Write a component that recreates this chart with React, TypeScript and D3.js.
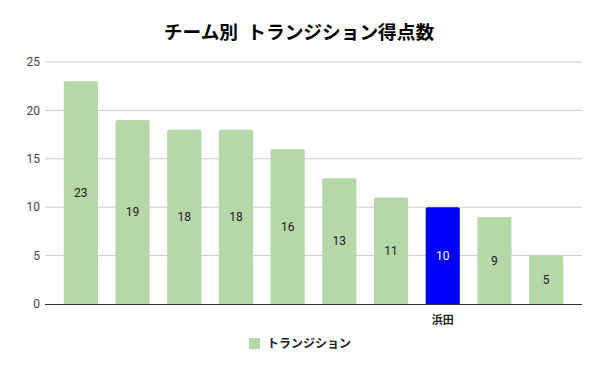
import * as d3 from "d3";
import { useEffect, useRef } from "react";

const title = "チーム別  トランジション得点数";
const seriesName = "トランジション";
const categories = ["", "", "", "", "", "", "", "浜田", "", ""];
const values = [23, 19, 18, 18, 16, 13, 11, 10, 9, 5];
const highlight = ["", "", "", "", "", "", "", "浜田", "", ""].map((c) => c !== "");
const yTicks = [0, 5, 10, 15, 20, 25];

const FONT = "Roboto, 'Noto Sans CJK JP', sans-serif";

export default function App() {
  const svgRef = useRef<SVGSVGElement | null>(null);

  useEffect(() => {
    if (!svgRef.current) return;
    const svg = d3.select(svgRef.current);
    svg.selectAll("*").remove();

    const width = 600;
    const height = 371;
    const top = 62;
    const bottom = 304;
    const left = 45;
    const right = 582;

    const x = d3
      .scaleBand<number>()
      .domain(values.map((_, i) => i))
      .range([55, 572])
      .paddingInner(0.34)
      .paddingOuter(0.17);

    const y = d3.scaleLinear().domain([0, 25]).range([bottom, top]);

    svg.append("rect").attr("width", width).attr("height", height).attr("fill", "#fff");

    // title
    svg.append("text")
      .attr("x", 299)
      .attr("y", 39)
      .attr("text-anchor", "middle")
      .attr("font-family", FONT)
      .attr("font-size", 18.7)
      .attr("font-weight", "bold")
      .attr("fill", "#000")
      .attr("xml:space", "preserve")
      .style("white-space", "pre")
      .text(title);

    // gridlines
    svg.append("g")
      .selectAll("line")
      .data(yTicks.filter((t) => t > 0))
      .enter()
      .append("line")
      .attr("x1", left)
      .attr("x2", right)
      .attr("y1", (d) => y(d))
      .attr("y2", (d) => y(d))
      .attr("stroke", "#cccccc")
      .attr("stroke-width", 1);

    // y labels
    svg.append("g")
      .selectAll("text")
      .data(yTicks)
      .enter()
      .append("text")
      .attr("x", 40)
      .attr("y", (d) => y(d))
      .attr("dy", "0.35em")
      .attr("text-anchor", "end")
      .attr("font-family", FONT)
      .attr("font-size", 12)
      .attr("fill", "#444")
      .text((d) => d);

    // bars
    svg.append("g")
      .selectAll("path")
      .data(values)
      .enter()
      .append("path")
      .attr("d", (d, i) => {
        const x0 = x(i)!;
        const w = x.bandwidth();
        const y0 = y(d);
        const r = 2;
        return `M${x0},${bottom}V${y0 + r}Q${x0},${y0} ${x0 + r},${y0}H${x0 + w - r}Q${x0 + w},${y0} ${x0 + w},${y0 + r}V${bottom}Z`;
      })
      .attr("fill", (_, i) => (highlight[i] ? "#0000ff" : "#b6d7a8"));

    // value labels
    svg.append("g")
      .selectAll("text")
      .data(values)
      .enter()
      .append("text")
      .attr("x", (_, i) => x(i)! + x.bandwidth() / 2)
      .attr("y", (d) => (y(d) + bottom) / 2)
      .attr("dy", "0.35em")
      .attr("text-anchor", "middle")
      .attr("font-family", FONT)
      .attr("font-size", 12)
      .attr("fill", (_, i) => (highlight[i] ? "#fff" : "#222"))
      .text((d) => d);

    // baseline
    svg.append("line")
      .attr("x1", left)
      .attr("x2", right)
      .attr("y1", bottom + 0.5)
      .attr("y2", bottom + 0.5)
      .attr("stroke", "#333")
      .attr("stroke-width", 1);

    // category labels
    svg.append("g")
      .selectAll("text")
      .data(categories)
      .enter()
      .append("text")
      .attr("x", (_, i) => x(i)! + x.bandwidth() / 2)
      .attr("y", 324)
      .attr("text-anchor", "middle")
      .attr("font-family", FONT)
      .attr("font-size", 11)
      .attr("font-weight", "bold")
      .attr("fill", "#222")
      .text((d) => d);

    // legend
    const lg = svg.append("g");
    lg.append("rect")
      .attr("x", 249)
      .attr("y", 338)
      .attr("width", 11)
      .attr("height", 11)
      .attr("fill", "#b6d7a8");
    lg.append("text")
      .attr("x", 267)
      .attr("y", 344)
      .attr("dy", "0.35em")
      .attr("font-family", FONT)
      .attr("font-size", 12)
      .attr("font-weight", "bold")
      .attr("fill", "#222")
      .text(seriesName);
  }, []);

  return (
    <div style={{ width: 600, height: 371, margin: -8 }}>
      <svg ref={svgRef} width={600} height={371} style={{ display: "block" }} />
    </div>
  );
}
